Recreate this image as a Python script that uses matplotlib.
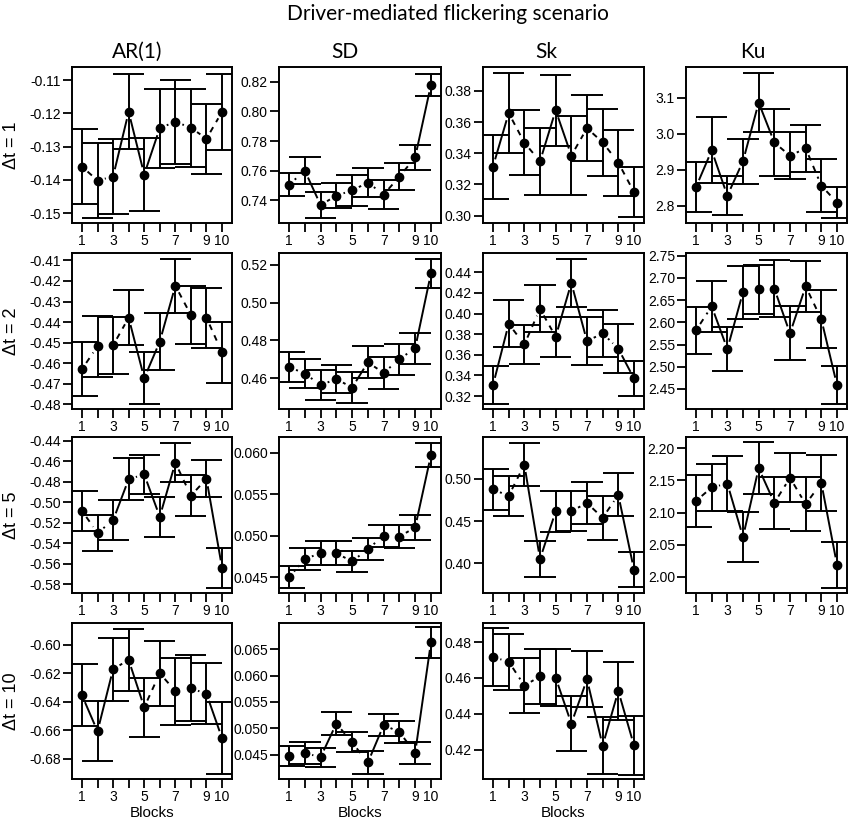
import numpy as np
import matplotlib
matplotlib.use("Agg")
import matplotlib.pyplot as plt

plt.rcParams['font.family'] = ['Liberation Sans', 'DejaVu Sans']

# ---------------- data ----------------
blocks = [1, 2, 3, 4, 5, 6, 7, 8, 9, 10]
xtick_labels = ["1", "", "3", "", "5", "", "7", "", "9", "10"]
stat_names = ["AR(1)", "SD", "Sk", "Ku"]
dt_names = ["\u0394t = 1", "\u0394t = 2", "\u0394t = 5", "\u0394t = 10"]
main_title = "Driver-mediated flickering scenario"
x_title = "Blocks"

# Δt = 1
ar_dt1 = [-0.1360, -0.1402, -0.1390, -0.1195, -0.1384, -0.1244, -0.1225, -0.1243, -0.1276, -0.1195]
ar_dt1_err = [0.0113, 0.0113, 0.0112, 0.0113, 0.0109, 0.0119, 0.0126, 0.0117, 0.0105, 0.0115]
ar_dt1_lty = ["d", "d", "s", "s", "s", "d", "d", "d", "d"]
ar_dt1_ticks = ["-0.15", "-0.14", "-0.13", "-0.12", "-0.11"]

sd_dt1 = [0.7506, 0.7600, 0.7368, 0.7432, 0.7467, 0.7520, 0.7439, 0.7560, 0.7690, 0.8179]
sd_dt1_err = [0.0078, 0.0090, 0.0090, 0.0085, 0.0104, 0.0099, 0.0100, 0.0090, 0.0082, 0.0077]
sd_dt1_lty = [":", "s", "d", "d", "d", ":", "d", "d", "s"]
sd_dt1_ticks = ["0.74", "0.76", "0.78", "0.80", "0.82"]

sk_dt1 = [0.3315, 0.3658, 0.3468, 0.3348, 0.3676, 0.3385, 0.3561, 0.3470, 0.3340, 0.3151]
sk_dt1_err = [0.0205, 0.0254, 0.0207, 0.0213, 0.0228, 0.0253, 0.0212, 0.0216, 0.0211, 0.0162]
sk_dt1_lty = ["s", "d", "d", "s", "s", "d", "d", "d", "d"]
sk_dt1_ticks = ["0.30", "0.32", "0.34", "0.36", "0.38"]

ku_dt1 = [2.852, 2.954, 2.828, 2.924, 3.087, 2.976, 2.939, 2.960, 2.856, 2.809]
ku_dt1_err = [0.070, 0.092, 0.055, 0.063, 0.082, 0.093, 0.065, 0.066, 0.073, 0.044]
ku_dt1_lty = ["s", "s", "s", "s", "s", "d", "d", "d", "d"]
ku_dt1_ticks = ["2.8", "2.9", "3.0", "3.1"]

# Δt = 2
ar_dt2 = [-0.4629, -0.4518, -0.4513, -0.4379, -0.4673, -0.4495, -0.4223, -0.4366, -0.4379, -0.4548]
ar_dt2_err = [0.0133, 0.0147, 0.0139, 0.0133, 0.0125, 0.0137, 0.0131, 0.0143, 0.0145, 0.0148]
ar_dt2_lty = ["d", "d", "d", "s", "s", "s", "d", "d", "d"]
ar_dt2_ticks = ["-0.48", "-0.47", "-0.46", "-0.45", "-0.44", "-0.43", "-0.42", "-0.41"]

sd_dt2 = [0.4660, 0.4626, 0.4565, 0.4597, 0.4552, 0.4685, 0.4629, 0.4702, 0.4759, 0.5153]
sd_dt2_err = [0.0077, 0.0075, 0.0079, 0.0073, 0.0083, 0.0084, 0.0085, 0.0082, 0.0082, 0.0074]
sd_dt2_lty = ["d", ":", "d", "d", "s", "d", ":", ":", "s"]
sd_dt2_ticks = ["0.46", "0.48", "0.50", "0.52"]

sk_dt2 = [0.3306, 0.3900, 0.3700, 0.4045, 0.3775, 0.4297, 0.3732, 0.3808, 0.3659, 0.3370]
sk_dt2_err = [0.0181, 0.0227, 0.0190, 0.0227, 0.0194, 0.0234, 0.0234, 0.0231, 0.0237, 0.0174]
sk_dt2_lty = ["s", "d", "d", "d", "s", "s", "d", ":", "s"]
sk_dt2_ticks = ["0.32", "0.34", "0.36", "0.38", "0.40", "0.42", "0.44"]

ku_dt2 = [2.582, 2.636, 2.540, 2.668, 2.674, 2.676, 2.575, 2.681, 2.607, 2.459]
ku_dt2_err = [0.0525, 0.0578, 0.0484, 0.0596, 0.0544, 0.0645, 0.0608, 0.0581, 0.0649, 0.0431]
ku_dt2_lty = ["d", "s", "s", "d", "d", "s", "s", "d", "s"]
ku_dt2_ticks = ["2.45", "2.50", "2.55", "2.60", "2.65", "2.70", "2.75"]

# Δt = 5
ar_dt5 = [-0.5082, -0.5298, -0.5175, -0.4773, -0.4727, -0.5140, -0.4612, -0.4934, -0.4770, -0.5638]
ar_dt5_err = [0.0193, 0.0172, 0.0197, 0.0205, 0.0189, 0.0197, 0.0189, 0.0197, 0.0180, 0.0195]
ar_dt5_lty = ["d", ":", "s", "d", "s", "s", "d", "d", "s"]
ar_dt5_ticks = ["-0.58", "-0.56", "-0.54", "-0.52", "-0.50", "-0.48", "-0.46", "-0.44"]

sd_dt5 = [0.0450, 0.0472, 0.0479, 0.0479, 0.0469, 0.0484, 0.0500, 0.0499, 0.0510, 0.0597]
sd_dt5_err = [0.0013, 0.00135, 0.00146, 0.00146, 0.0013, 0.00133, 0.00135, 0.00135, 0.00148, 0.00146]
sd_dt5_lty = [":", "d", "d", "d", ":", ":", "d", "d", "s"]
sd_dt5_ticks = ["0.045", "0.050", "0.055", "0.060"]

sk_dt5 = [0.4873, 0.4796, 0.5165, 0.4052, 0.4614, 0.4617, 0.4712, 0.4538, 0.4808, 0.3926]
sk_dt5_err = [0.0245, 0.0233, 0.0255, 0.0215, 0.0243, 0.0237, 0.0243, 0.0257, 0.0253, 0.0208]
sk_dt5_lty = ["d", "d", "s", "s", "d", "d", "d", "d", "s"]
sk_dt5_ticks = ["0.40", "0.45", "0.50"]

ku_dt5 = [2.118, 2.139, 2.145, 2.062, 2.169, 2.115, 2.154, 2.113, 2.146, 2.019]
ku_dt5_err = [0.0406, 0.0361, 0.0429, 0.0382, 0.0398, 0.0406, 0.0380, 0.0414, 0.0432, 0.0359]
ku_dt5_lty = ["d", "d", "s", "s", "s", "d", "d", "d", "s"]
ku_dt5_ticks = ["2.00", "2.05", "2.10", "2.15", "2.20"]

# Δt = 10
ar_dt10 = [-0.6355, -0.6608, -0.6172, -0.6107, -0.6440, -0.6200, -0.6327, -0.6306, -0.6345, -0.6657]
ar_dt10_err = [0.0218, 0.0211, 0.0220, 0.0216, 0.0205, 0.0228, 0.0235, 0.0232, 0.0213, 0.0251]
ar_dt10_lty = ["s", "s", "d", "s", "d", "d", "d", "d", "s"]
ar_dt10_ticks = ["-0.68", "-0.66", "-0.64", "-0.62", "-0.60"]

sd_dt10 = [0.0448, 0.0453, 0.0445, 0.0509, 0.0473, 0.0435, 0.0506, 0.0493, 0.0453, 0.0663]
sd_dt10_err = [0.0019, 0.0020, 0.0018, 0.0022, 0.0019, 0.0021, 0.0021, 0.0021, 0.0020, 0.0029]
sd_dt10_lty = ["d", "d", "s", "d", "d", "s", "d", "d", "s"]
sd_dt10_ticks = ["0.045", "0.050", "0.055", "0.060", "0.065"]

sk_dt10 = [0.4715, 0.4691, 0.4557, 0.4608, 0.4601, 0.4345, 0.4592, 0.4222, 0.4527, 0.4223]
sk_dt10_err = [0.0161, 0.0156, 0.0153, 0.0155, 0.0158, 0.0155, 0.0157, 0.0158, 0.0163, 0.0162]
sk_dt10_lty = ["d", "d", "d", "d", "s", "s", "s", "s", "s"]
sk_dt10_ticks = ["0.42", "0.44", "0.46", "0.48"]

# ---------------- layout ----------------
W, H = 851, 822
col_left = [72, 279, 483, 686]
col_width = [160, 162, 161, 161]
row_top = [67, 253, 437, 623]
row_height = 156
col_title_x = [137, 345, 546, 753]
xlim = (0.36, 10.64)
cap_half = 1.0
gap_px = 7.5

panels = {
    (0, 0): (ar_dt1, ar_dt1_err, ar_dt1_lty, ar_dt1_ticks, (-0.153, -0.106)),
    (0, 1): (sd_dt1, sd_dt1_err, sd_dt1_lty, sd_dt1_ticks, (0.7247, 0.830)),
    (0, 2): (sk_dt1, sk_dt1_err, sk_dt1_lty, sk_dt1_ticks, (0.2953, 0.3953)),
    (0, 3): (ku_dt1, ku_dt1_err, ku_dt1_lty, ku_dt1_ticks, (2.752, 3.186)),
    (1, 0): (ar_dt2, ar_dt2_err, ar_dt2_lty, ar_dt2_ticks, (-0.4823, -0.4064)),
    (1, 1): (sd_dt2, sd_dt2_err, sd_dt2_lty, sd_dt2_ticks, (0.4439, 0.5261)),
    (1, 2): (sk_dt2, sk_dt2_err, sk_dt2_lty, sk_dt2_ticks, (0.3074, 0.4587)),
    (1, 3): (ku_dt2, ku_dt2_err, ku_dt2_lty, ku_dt2_ticks, (2.405, 2.756)),
    (2, 0): (ar_dt5, ar_dt5_err, ar_dt5_lty, ar_dt5_ticks, (-0.5885, -0.4361)),
    (2, 1): (sd_dt5, sd_dt5_err, sd_dt5_lty, sd_dt5_ticks, (0.0431, 0.0619)),
    (2, 2): (sk_dt5, sk_dt5_err, sk_dt5_lty, sk_dt5_ticks, (0.3652, 0.549)),
    (2, 3): (ku_dt5, ku_dt5_err, ku_dt5_lty, ku_dt5_ticks, (1.975, 2.2173)),
    (3, 0): (ar_dt10, ar_dt10_err, ar_dt10_lty, ar_dt10_ticks, (-0.6943, -0.5848)),
    (3, 1): (sd_dt10, sd_dt10_err, sd_dt10_lty, sd_dt10_ticks, (0.04036, 0.0700)),
    (3, 2): (sk_dt10, sk_dt10_err, sk_dt10_lty, sk_dt10_ticks, (0.4036, 0.4906)),
}

styles = {"s": "-", "d": (0, (3.0, 3.0)), ":": (0, (1.0, 2.2))}
LW = 1.4
tick_font = "Liberation Sans"
title_font = "Lato"

fig = plt.figure(figsize=(W / 100, H / 100), dpi=100)


def draw_links(ax, xs, ys, ltys):
    trans = ax.transData
    inv = trans.inverted()
    for i, lt in enumerate(ltys):
        p0 = trans.transform((xs[i], ys[i]))
        p1 = trans.transform((xs[i + 1], ys[i + 1]))
        d = p1 - p0
        L = np.hypot(*d)
        if L <= 2 * gap_px + 1:
            continue
        u = d / L
        q0 = inv.transform(p0 + u * gap_px)
        q1 = inv.transform(p1 - u * gap_px)
        ax.plot([q0[0], q1[0]], [q0[1], q1[1]], color="black", lw=LW,
                linestyle=styles[lt], solid_capstyle="butt", dash_capstyle="butt")


for (r, c), (vals, errs, ltys, ticks, ylim) in panels.items():
    rect = [col_left[c] / W, 1 - (row_top[r] + row_height) / H,
            col_width[c] / W, row_height / H]
    ax = fig.add_axes(rect)
    ax.set_xlim(*xlim)
    ax.set_ylim(*ylim)
    x = np.array(blocks, dtype=float)
    y = np.array(vals)
    e = np.array(errs)
    ax.vlines(x, y - e, y + e, color="black", lw=LW)
    ax.hlines(y + e, x - cap_half, x + cap_half, color="black", lw=LW)
    ax.hlines(y - e, x - cap_half, x + cap_half, color="black", lw=LW)
    draw_links(ax, x, y, ltys)
    ax.plot(x, y, "o", color="black", ms=6, zorder=5)

    ax.set_xticks(blocks)
    ax.set_xticklabels(xtick_labels, fontfamily=tick_font, fontsize=10)
    ax.set_yticks([float(t) for t in ticks])
    ax.set_yticklabels(ticks, fontfamily=tick_font, fontsize=10)
    ax.tick_params(direction="out", length=6.5, width=1.3, pad=1.5, colors="black")
    for sp in ax.spines.values():
        sp.set_linewidth(1.4)
    if r == 3:
        fig.text((col_left[c] + col_width[c] / 2) / W, 1 - 813 / H, x_title,
                 ha="center", va="center", fontsize=11, family=tick_font)

fig.text(448 / W, 1 - 14 / H, main_title, ha="center", va="center",
         fontsize=15, family=title_font)
for c, name in enumerate(stat_names):
    fig.text(col_title_x[c] / W, 1 - 52 / H, name, ha="center", va="center",
             fontsize=15, family=title_font)
for r, name in enumerate(dt_names):
    fig.text(12 / W, 1 - (row_top[r] + row_height / 2) / H, name, rotation=90,
             ha="center", va="center", fontsize=13, family=tick_font)

fig.savefig("out.png", dpi=100)
